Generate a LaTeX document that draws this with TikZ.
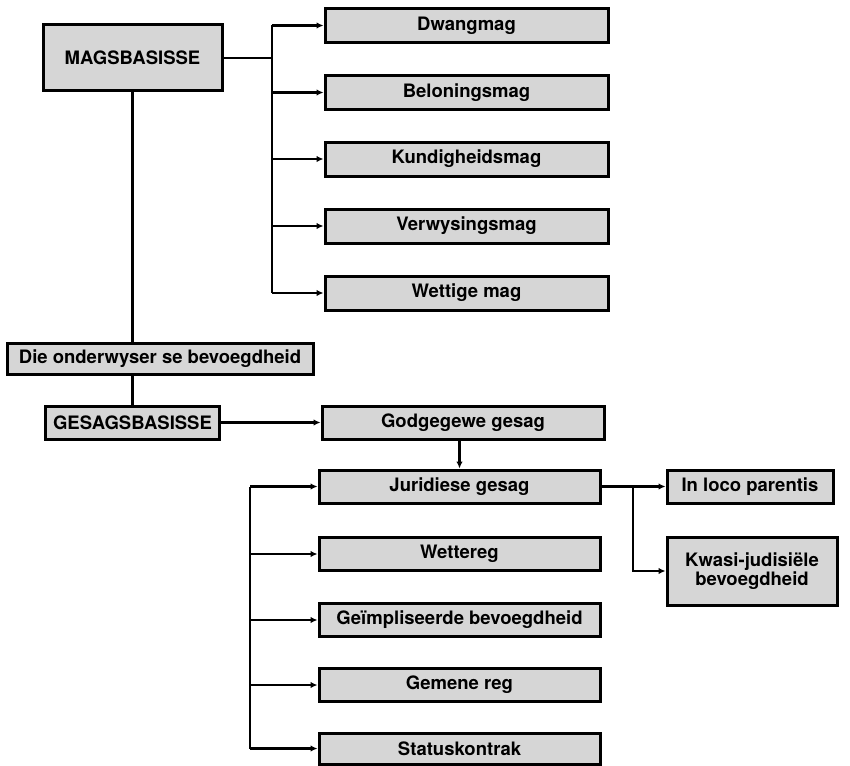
\documentclass[tikz,border=0pt]{standalone}
\usepackage{fontspec}
\setmainfont{TeX Gyre Heros}
\usetikzlibrary{arrows.meta}
\begin{document}
\begin{tikzpicture}[x=1pt,y=-1pt,
  box/.style={draw=black,line width=3pt,fill=black!16,minimum height=34pt,
    inner sep=0pt,align=center,font=\fontsize{18.5}{19.5}\selectfont\bfseries},
  conn/.style={line width=2.6pt},
  arr/.style={line width=2.6pt,-{Latex[length=7pt,width=6.5pt]}}]
\useasboundingbox (0,0) rectangle (850,765);
% top part
\node[box,minimum width=179pt,minimum height=66pt] (mag) at (132.5,58) {MAGSBASISSE};
\node[box,minimum width=283pt] (dwang) at (466.5,25.5) {Dwangmag};
\node[box,minimum width=283pt] (belon) at (466.5,92.5) {Beloningsmag};
\node[box,minimum width=283pt] (kund) at (466.5,159) {Kundigheidsmag};
\node[box,minimum width=283pt] (verw) at (466.5,226) {Verwysingsmag};
\node[box,minimum width=283pt] (wett) at (466.5,293) {Wettige mag};
% middle
\node[box,minimum width=306pt,minimum height=31pt] (onder) at (160,358.5) {Die onderwyser se bevoegdheid};
\node[box,minimum width=174pt,minimum height=33pt] (gesag) at (132.5,422.5) {GESAGSBASISSE};
\node[box,minimum width=282pt,minimum height=33pt] (god) at (463,422.5) {Godgegewe gesag};
% bottom
\node[box,minimum width=281pt,minimum height=33pt] (jur) at (459.5,486.5) {Juridiese gesag};
\node[box,minimum width=281pt,minimum height=33pt] (wreg) at (459.5,554) {Wettereg};
\node[box,minimum width=281pt,minimum height=33pt] (geimp) at (459.5,620) {Geïmpliseerde bevoegdheid};
\node[box,minimum width=281pt,minimum height=33pt] (gemene) at (459.5,685) {Gemene reg};
\node[box,minimum width=281pt,minimum height=31pt] (status) at (459.5,748.5) {Statuskontrak};
\node[box,minimum width=166pt,minimum height=33pt] (loco) at (750,486.5) {In loco parentis};
\node[box,minimum width=170pt,minimum height=68pt] (kwasi) at (752,571) {Kwasi-judisiële\\bevoegdheid};
% connectors top
\coordinate (mb) at (272,58);
\draw[conn] (mag.east) -- (mb);
\draw[conn] (mb |- dwang) -- (mb |- wett);
\foreach \n in {dwang,belon,kund,verw,wett}
  \draw[arr] (mb |- \n) -- (\n.west);
\draw[conn] (mag.south) -- (mag.south |- onder.north);
\draw[conn] (onder.south -| gesag.north) -- (gesag.north);
\draw[arr] (gesag.east) -- (god.west);
\draw[arr] (god.south -| jur.north) -- (jur.north);
% left bracket
\coordinate (lb) at (250,486.5);
\draw[conn] (lb |- jur) -- (lb |- status);
\foreach \n in {jur,wreg,geimp,gemene,status}
  \draw[arr] (lb |- \n) -- (\n.west);
% right branch
\coordinate (rb) at (633,486.5);
\draw[arr] (jur.east) -- (loco.west);
\draw[arr] (rb) |- (kwasi.west);
\end{tikzpicture}
\end{document}
